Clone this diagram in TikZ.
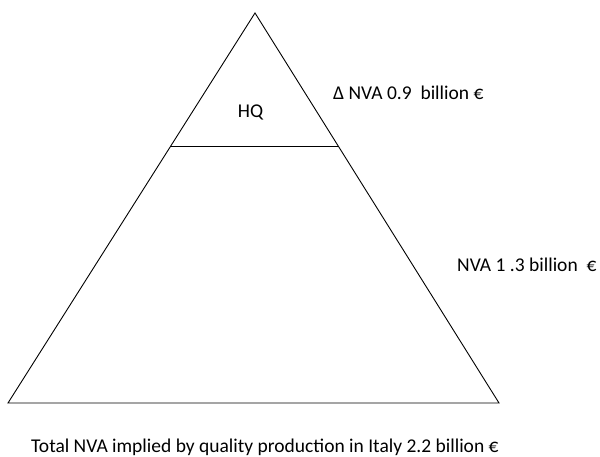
\documentclass[tikz,border=0pt]{standalone}
\usepackage{fontspec}
\setmainfont{Carlito}
\usetikzlibrary{calc}
\begin{document}
\begin{tikzpicture}[x=1pt,y=1pt,
  outline/.style={line width=0.9pt,line join=miter},
  label/.style={inner sep=0pt,font=\fontsize{19.5}{23}\selectfont}]
\useasboundingbox (0,0) rectangle (600,457);
% pyramid corners
\coordinate (apex) at (255,444);
\coordinate (bl) at (8,54);
\coordinate (br) at (499,54);
% split between the HQ tip and the lower band
\coordinate (sl) at ($(apex)!0.341!(bl)$);
\coordinate (sr) at ($(apex)!0.341!(br)$);
\draw[outline] (apex) -- (bl) -- (br) -- cycle;
\draw[outline] (sl) -- (sr);
\node[label,anchor=base] (hq) at (250.5,339) {HQ};
\node[label,anchor=base west] (dnva) at (333,357) {Δ NVA 0.9\ \ billion €};
\node[label,anchor=base west] (nva) at (457,185) {NVA 1 .3 billion\ \ €};
\node[label,anchor=base west] (total) at (31,4) {Total NVA implied by quality production in Italy 2.2 billion €};
\end{tikzpicture}
\end{document}
